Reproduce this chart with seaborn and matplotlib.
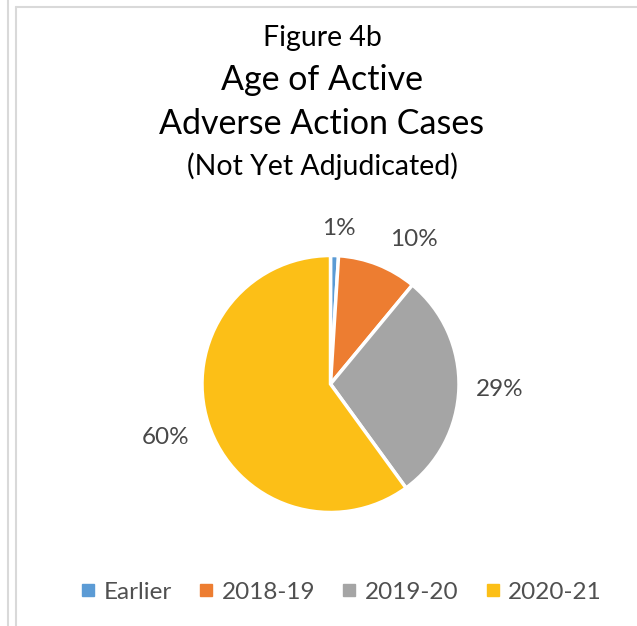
import matplotlib
matplotlib.use("Agg")
import numpy as np
import matplotlib.pyplot as plt
import seaborn as sns
from matplotlib.lines import Line2D

# data
categories = ["Earlier", "2018-19", "2019-20", "2020-21"]
shares = [1, 10, 29, 60]
colors = ["#5B9BD5", "#ED7D31", "#A5A5A5", "#FCBF17"]

title_lines = ["Figure 4b", "Age of Active", "Adverse Action Cases", "(Not Yet Adjudicated)"]

sns.set_theme(style="white")
plt.rcParams["font.family"] = ["Lato", "DejaVu Sans"]

fig = plt.figure(figsize=(6.37, 6.26), dpi=100)

# pie axes placed in pixels: centre (330, 384), radius 128
W, H = 637, 626
cx, cy, r = 330.5, 384, 128.5
ax = fig.add_axes([(cx - r) / W, (H - cy - r) / H, 2 * r / W, 2 * r / H])

wedges, _, autotexts = ax.pie(
    shares,
    colors=colors,
    startangle=90,
    counterclock=False,
    autopct=lambda p: f"{p:.0f}%",
    pctdistance=1.3,
    wedgeprops=dict(edgecolor="white", linewidth=2.5),
    textprops=dict(fontsize=17.5, color="#484848"),
)

# nudge labels the way Excel's "best fit" placed them
label_dist = [1.21, 1.30, 1.32, 1.35]
angle_shift = [-1.3, -8.5, 0, 0]
for w, t, d, s in zip(wedges, autotexts, label_dist, angle_shift):
    a = np.deg2rad((w.theta1 + w.theta2) / 2 + s)
    t.set_position((d * np.cos(a), d * np.sin(a)))

ax.set_xlim(-1, 1)
ax.set_ylim(-1, 1)
ax.axis("off")

# title block
tx = 322 / W
fig.text(tx, 1 - 38 / H, title_lines[0], ha="center", va="center", fontsize=20.5, color="black")
fig.text(tx, 1 - 80 / H, title_lines[1], ha="center", va="center", fontsize=24.5, color="black")
fig.text(tx, 1 - 124 / H, title_lines[2], ha="center", va="center", fontsize=24.5, color="black")
fig.text(tx, 1 - 166 / H, title_lines[3], ha="center", va="center", fontsize=20.5, color="black")

# legend
handles = [Line2D([0], [0], marker="s", linestyle="", markersize=8,
                  markerfacecolor=c, markeredgecolor=c) for c in colors]
fig.legend(handles, categories, loc="center", bbox_to_anchor=(340 / W, 1 - 592 / H),
           ncol=4, frameon=False, fontsize=17.5, labelcolor="#505050",
           handletextpad=0.25, columnspacing=1.0, handlelength=0.8)

# outer frame lines of the source page
fig.add_artist(Line2D([7.5 / W, 7.5 / W], [0, 1], color="#D9D9D9", linewidth=1.5))
fig.add_artist(Line2D([15.5 / W, 15.5 / W], [0, 1 - 7 / H], color="#D9D9D9", linewidth=1.5))
fig.add_artist(Line2D([15.5 / W, 1], [1 - 7 / H, 1 - 7 / H], color="#D9D9D9", linewidth=1.5))

fig.savefig("out.png", dpi=100, facecolor="white")
plt.close(fig)
